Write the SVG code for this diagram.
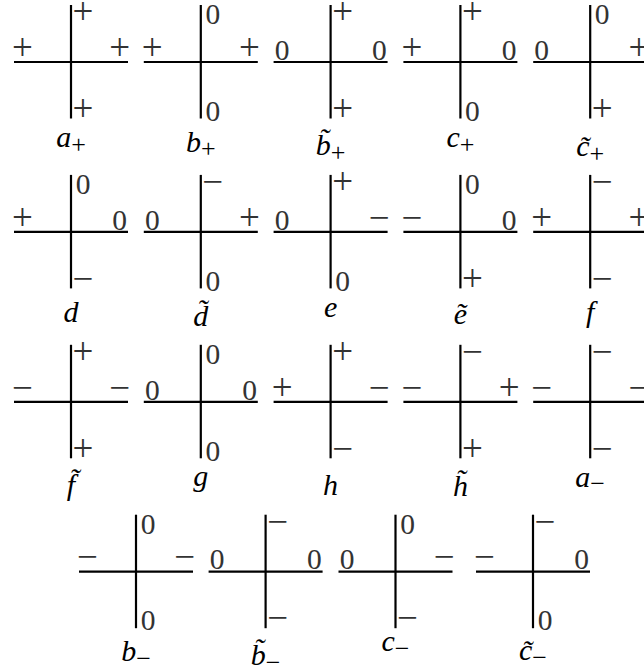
<svg xmlns="http://www.w3.org/2000/svg" width="644" height="667" viewBox="0 0 644 667">
<style>
.ln{stroke:#000;stroke-width:2.2;fill:none}
.s{font-family:"Liberation Serif",serif;font-size:29.5px;fill:#333;text-anchor:middle}
.pm{font-size:37px}
.nm{font-family:"Liberation Serif",serif;font-style:italic;font-size:30px;fill:#000;text-anchor:middle}
.sub{font-style:normal;font-size:26px}
</style>
<rect width="644" height="667" fill="#fff"/>
<g id="connectors"></g>
<!-- Row 1 -->
<g id="a_plus">
<line class="ln" x1="14" y1="62" x2="128" y2="62"/><line class="ln" x1="71" y1="5" x2="71" y2="118.5"/>
<text class="s pm" x="83" y="24.2">+</text><text class="s pm" x="22.5" y="59.7">+</text><text class="s pm" x="119.7" y="59.7">+</text><text class="s pm" x="83" y="120.7">+</text>
<text class="nm" x="71" y="147">a<tspan class="sub" dy="5.5">+</tspan></text>
</g>
<g id="b_plus">
<line class="ln" x1="143.8" y1="62" x2="257.8" y2="62"/><line class="ln" x1="200.8" y1="5" x2="200.8" y2="118.5"/>
<text class="s" x="212.8" y="24.2">0</text><text class="s pm" x="152.3" y="59.7">+</text><text class="s pm" x="249.5" y="59.7">+</text><text class="s" x="212.8" y="120.7">0</text>
<text class="nm" x="200.8" y="151.5">b<tspan class="sub" dy="5.5">+</tspan></text>
</g>
<g id="bt_plus">
<line class="ln" x1="273.6" y1="62" x2="387.6" y2="62"/><line class="ln" x1="330.6" y1="5" x2="330.6" y2="118.5"/>
<text class="s pm" x="342.6" y="24.2">+</text><text class="s" x="282.1" y="59.7">0</text><text class="s" x="379.3" y="59.7">0</text><text class="s pm" x="342.6" y="120.7">+</text>
<text class="nm" x="330.6" y="155">b&#x303;<tspan class="sub" dy="5.5">+</tspan></text>
</g>
<g id="c_plus">
<line class="ln" x1="403.4" y1="62" x2="517.4" y2="62"/><line class="ln" x1="460.4" y1="5" x2="460.4" y2="118.5"/>
<text class="s pm" x="472.4" y="24.2">+</text><text class="s pm" x="411.9" y="59.7">+</text><text class="s" x="509.1" y="59.7">0</text><text class="s" x="472.4" y="120.7">0</text>
<text class="nm" x="460.4" y="147">c<tspan class="sub" dy="5.5">+</tspan></text>
</g>
<g id="ct_plus">
<line class="ln" x1="533.2" y1="62" x2="647.2" y2="62"/><line class="ln" x1="590.2" y1="5" x2="590.2" y2="118.5"/>
<text class="s" x="602.2" y="24.2">0</text><text class="s" x="541.7" y="59.7">0</text><text class="s pm" x="638.9" y="59.7">+</text><text class="s pm" x="602.2" y="120.7">+</text>
<text class="nm" x="590.2" y="156">c&#x303;<tspan class="sub" dy="5.5">+</tspan></text>
</g>
<!-- Row 2 -->
<g id="d">
<line class="ln" x1="14" y1="231.9" x2="128" y2="231.9"/><line class="ln" x1="71" y1="174.9" x2="71" y2="288.4"/>
<text class="s" x="83" y="194.1">0</text><text class="s pm" x="22.5" y="229.6">+</text><text class="s" x="119.7" y="229.6">0</text><text class="s pm" x="83" y="290.6">−</text>
<text class="nm" x="71" y="322">d</text>
</g>
<g id="dt">
<line class="ln" x1="143.8" y1="231.9" x2="257.8" y2="231.9"/><line class="ln" x1="200.8" y1="174.9" x2="200.8" y2="288.4"/>
<text class="s pm" x="212.8" y="194.1">−</text><text class="s" x="152.3" y="229.6">0</text><text class="s pm" x="249.5" y="229.6">+</text><text class="s" x="212.8" y="290.6">0</text>
<text class="nm" x="200.8" y="326">d&#x303;</text>
</g>
<g id="e">
<line class="ln" x1="273.6" y1="231.9" x2="387.6" y2="231.9"/><line class="ln" x1="330.6" y1="174.9" x2="330.6" y2="288.4"/>
<text class="s pm" x="342.6" y="194.1">+</text><text class="s" x="282.1" y="229.6">0</text><text class="s pm" x="379.3" y="229.6">−</text><text class="s" x="342.6" y="290.6">0</text>
<text class="nm" x="330.6" y="316.5">e</text>
</g>
<g id="et">
<line class="ln" x1="403.4" y1="231.9" x2="517.4" y2="231.9"/><line class="ln" x1="460.4" y1="174.9" x2="460.4" y2="288.4"/>
<text class="s" x="472.4" y="194.1">0</text><text class="s pm" x="411.9" y="229.6">−</text><text class="s" x="509.1" y="229.6">0</text><text class="s pm" x="472.4" y="290.6">+</text>
<text class="nm" x="460.4" y="323.5">e&#x303;</text>
</g>
<g id="f">
<line class="ln" x1="533.2" y1="231.9" x2="647.2" y2="231.9"/><line class="ln" x1="590.2" y1="174.9" x2="590.2" y2="288.4"/>
<text class="s pm" x="602.2" y="194.1">−</text><text class="s pm" x="541.7" y="229.6">+</text><text class="s pm" x="638.9" y="229.6">+</text><text class="s pm" x="602.2" y="290.6">−</text>
<text class="nm" x="590.2" y="322">f</text>
</g>
<!-- Row 3 -->
<g id="ft">
<line class="ln" x1="14" y1="401.8" x2="128" y2="401.8"/><line class="ln" x1="71" y1="344.8" x2="71" y2="458.3"/>
<text class="s pm" x="83" y="364">+</text><text class="s pm" x="22.5" y="399.5">−</text><text class="s pm" x="119.7" y="399.5">−</text><text class="s pm" x="83" y="460.5">+</text>
<text class="nm" x="71" y="495">f&#x303;</text>
</g>
<g id="g">
<line class="ln" x1="143.8" y1="401.8" x2="257.8" y2="401.8"/><line class="ln" x1="200.8" y1="344.8" x2="200.8" y2="458.3"/>
<text class="s" x="212.8" y="364">0</text><text class="s" x="152.3" y="399.5">0</text><text class="s" x="249.5" y="399.5">0</text><text class="s" x="212.8" y="460.5">0</text>
<text class="nm" x="200.8" y="486">g</text>
</g>
<g id="h">
<line class="ln" x1="273.6" y1="401.8" x2="387.6" y2="401.8"/><line class="ln" x1="330.6" y1="344.8" x2="330.6" y2="458.3"/>
<text class="s pm" x="342.6" y="364">+</text><text class="s pm" x="282.1" y="399.5">+</text><text class="s pm" x="379.3" y="399.5">−</text><text class="s pm" x="342.6" y="460.5">−</text>
<text class="nm" x="330.6" y="494.5">h</text>
</g>
<g id="ht">
<line class="ln" x1="403.4" y1="401.8" x2="517.4" y2="401.8"/><line class="ln" x1="460.4" y1="344.8" x2="460.4" y2="458.3"/>
<text class="s pm" x="472.4" y="364">−</text><text class="s pm" x="411.9" y="399.5">−</text><text class="s pm" x="509.1" y="399.5">+</text><text class="s pm" x="472.4" y="460.5">+</text>
<text class="nm" x="460.4" y="496">h&#x303;</text>
</g>
<g id="a_minus">
<line class="ln" x1="533.2" y1="401.8" x2="647.2" y2="401.8"/><line class="ln" x1="590.2" y1="344.8" x2="590.2" y2="458.3"/>
<text class="s pm" x="602.2" y="364">−</text><text class="s pm" x="541.7" y="399.5">−</text><text class="s pm" x="638.9" y="399.5">−</text><text class="s pm" x="602.2" y="460.5">−</text>
<text class="nm" x="590.2" y="486.7">a<tspan class="sub" dy="5.5">−</tspan></text>
</g>
<!-- Row 4 -->
<g id="b_minus">
<line class="ln" x1="79" y1="571.7" x2="193" y2="571.7"/><line class="ln" x1="136" y1="514.7" x2="136" y2="628.2"/>
<text class="s" x="148" y="533.9">0</text><text class="s pm" x="87.5" y="569.4">−</text><text class="s pm" x="184.7" y="569.4">−</text><text class="s" x="148" y="630.4">0</text>
<text class="nm" x="136" y="661">b<tspan class="sub" dy="5.5">−</tspan></text>
</g>
<g id="bt_minus">
<line class="ln" x1="208.6" y1="571.7" x2="322.6" y2="571.7"/><line class="ln" x1="265.6" y1="514.7" x2="265.6" y2="628.2"/>
<text class="s pm" x="277.6" y="533.9">−</text><text class="s" x="217.1" y="569.4">0</text><text class="s" x="314.3" y="569.4">0</text><text class="s pm" x="277.6" y="630.4">−</text>
<text class="nm" x="265.6" y="665">b&#x303;<tspan class="sub" dy="5.5">−</tspan></text>
</g>
<g id="c_minus">
<line class="ln" x1="338.5" y1="571.7" x2="452.5" y2="571.7"/><line class="ln" x1="395.5" y1="514.7" x2="395.5" y2="628.2"/>
<text class="s" x="407.5" y="533.9">0</text><text class="s" x="347" y="569.4">0</text><text class="s pm" x="444.2" y="569.4">−</text><text class="s pm" x="407.5" y="630.4">−</text>
<text class="nm" x="395.5" y="651">c<tspan class="sub" dy="5.5">−</tspan></text>
</g>
<g id="ct_minus">
<line class="ln" x1="476" y1="571.7" x2="590" y2="571.7"/><line class="ln" x1="533" y1="514.7" x2="533" y2="628.2"/>
<text class="s pm" x="545" y="533.9">−</text><text class="s pm" x="484.5" y="569.4">−</text><text class="s" x="581.7" y="569.4">0</text><text class="s" x="545" y="630.4">0</text>
<text class="nm" x="533" y="660">c&#x303;<tspan class="sub" dy="5.5">−</tspan></text>
</g>
</svg>
